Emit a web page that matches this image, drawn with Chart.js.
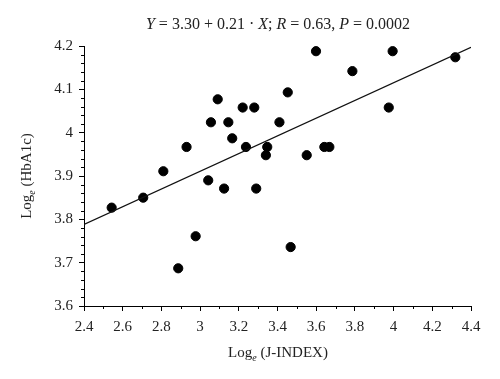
<!DOCTYPE html>
<html>
<head>
<meta charset="utf-8">
<script src="https://cdn.jsdelivr.net/npm/chart.js@4"></script>
<style>
  html, body { margin: 0; padding: 0; background: #fff; }
</style>
</head>
<body>
<canvas id="c" width="500" height="379"></canvas>
<script>
// data
const jIndex = [2.543, 2.706, 2.81, 2.887, 2.93, 2.977, 3.042, 3.056, 3.091, 3.124,
                3.146, 3.166, 3.22, 3.237, 3.28, 3.29, 3.34, 3.347, 3.41, 3.453,
                3.468, 3.551, 3.599, 3.642, 3.668, 3.787, 3.975, 3.995, 4.319];
const hba1c  = [3.827, 3.850, 3.911, 3.687, 3.967, 3.761, 3.890, 4.024, 4.077, 3.871,
                4.024, 3.987, 4.058, 3.967, 4.058, 3.871, 3.948, 3.967, 4.024, 4.093,
                3.736, 3.948, 4.188, 3.967, 3.967, 4.142, 4.058, 4.188, 4.174];
const fitX = [2.4, 4.4];
const fitY = [3.788, 4.197];
const xTicks = [2.4, 2.6, 2.8, 3, 3.2, 3.4, 3.6, 3.8, 4, 4.2, 4.4];
const yTicks = [3.6, 3.7, 3.8, 3.9, 4, 4.1, 4.2];

const serif = '"Liberation Serif", "DejaVu Serif", serif';

// titles with italics / subscripts, plus minor ticks
const extras = {
  id: 'extras',
  afterDraw(chart) {
    const ctx = chart.ctx;
    const xs = chart.scales.x, ys = chart.scales.y;
    ctx.save();
    ctx.strokeStyle = '#000';
    ctx.lineWidth = 1;
    // minor ticks
    ctx.beginPath();
    for (let i = 0; i < xTicks.length - 1; i++) {
      const px = Math.round(xs.getPixelForValue((xTicks[i] + xTicks[i + 1]) / 2)) + 0.5;
      ctx.moveTo(px, ys.bottom);
      ctx.lineTo(px, ys.bottom + 3);
    }
    for (let i = 0; i < yTicks.length - 1; i++) {
      for (let k = 1; k < 5; k++) {
        const py = Math.round(ys.getPixelForValue(yTicks[i] + k * 0.02)) + 0.5;
        ctx.moveTo(xs.left - 3, py);
        ctx.lineTo(xs.left, py);
      }
    }
    ctx.stroke();

    ctx.fillStyle = '#222';
    ctx.textBaseline = 'alphabetic';
    // title
    const parts = [
      ['Y', true], [' = 3.30 + 0.21 \u00B7 ', false], ['X', true], ['; ', false],
      ['R', true], [' = 0.63, ', false], ['P', true], [' = 0.0002', false]
    ];
    const fs = 16;
    let total = 0;
    parts.forEach(p => {
      ctx.font = (p[1] ? 'italic ' : '') + fs + 'px ' + serif;
      p.push(ctx.measureText(p[0]).width);
      total += p[2];
    });
    let x = 278 - total / 2;
    ctx.textAlign = 'left';
    parts.forEach(p => {
      ctx.font = (p[1] ? 'italic ' : '') + fs + 'px ' + serif;
      ctx.fillText(p[0], x, 29);
      x += p[2];
    });

    // axis title helper: "Log" + subscript e + rest
    function logTitle(rest, cx, base) {
      ctx.font = '15px ' + serif;
      const w1 = ctx.measureText('Log').width;
      const w3 = ctx.measureText(' ' + rest).width;
      ctx.font = 'italic 10px ' + serif;
      const w2 = ctx.measureText('e').width;
      let sx = cx - (w1 + w2 + w3) / 2;
      ctx.font = '15px ' + serif;
      ctx.fillText('Log', sx, base);
      ctx.font = 'italic 10px ' + serif;
      ctx.fillText('e', sx + w1, base + 4);
      ctx.font = '15px ' + serif;
      ctx.fillText(' ' + rest, sx + w1 + w2, base);
    }
    logTitle('(J-INDEX)', 278, 357);
    ctx.translate(31, 176);
    ctx.rotate(-Math.PI / 2);
    logTitle('(HbA1c)', 0, 0);
    ctx.restore();
  }
};

new Chart(document.getElementById('c'), {
  type: 'scatter',
  data: {
    datasets: [
      {
        type: 'line',
        data: fitX.map((v, i) => ({ x: v, y: fitY[i] })),
        borderColor: '#111',
        borderWidth: 1.3,
        pointRadius: 0,
        fill: false
      },
      {
        data: jIndex.map((v, i) => ({ x: v, y: hba1c[i] })),
        backgroundColor: '#000',
        borderColor: '#000',
        pointRadius: 4.6,
        pointHoverRadius: 4.6
      }
    ]
  },
  options: {
    responsive: false,
    animation: false,
    layout: { padding: { left: 40, right: 29, top: 46, bottom: 43 } },
    plugins: { legend: { display: false }, tooltip: { enabled: false } },
    scales: {
      x: {
        type: 'linear', min: 2.4, max: 4.4,
        afterFit: s => { s.height = 30; },
        afterBuildTicks: s => { s.ticks = xTicks.map(v => ({ value: v })); },
        border: { color: '#000', width: 1 },
        grid: { display: true, drawOnChartArea: false, drawTicks: true, tickLength: 5, color: '#000' },
        ticks: {
          color: '#222', padding: 7, maxRotation: 0,
          font: { family: serif, size: 15 },
          callback: v => String(+v.toFixed(1))
        }
      },
      y: {
        type: 'linear', min: 3.6, max: 4.2,
        afterFit: s => { s.width = 44; },
        afterBuildTicks: s => { s.ticks = yTicks.map(v => ({ value: v })); },
        border: { color: '#000', width: 1 },
        grid: { display: true, drawOnChartArea: false, drawTicks: true, tickLength: 5, color: '#000' },
        ticks: {
          color: '#222', padding: 6,
          font: { family: serif, size: 15 },
          callback: v => String(+v.toFixed(1))
        }
      }
    }
  },
  plugins: [extras]
});
</script>
</body>
</html>
